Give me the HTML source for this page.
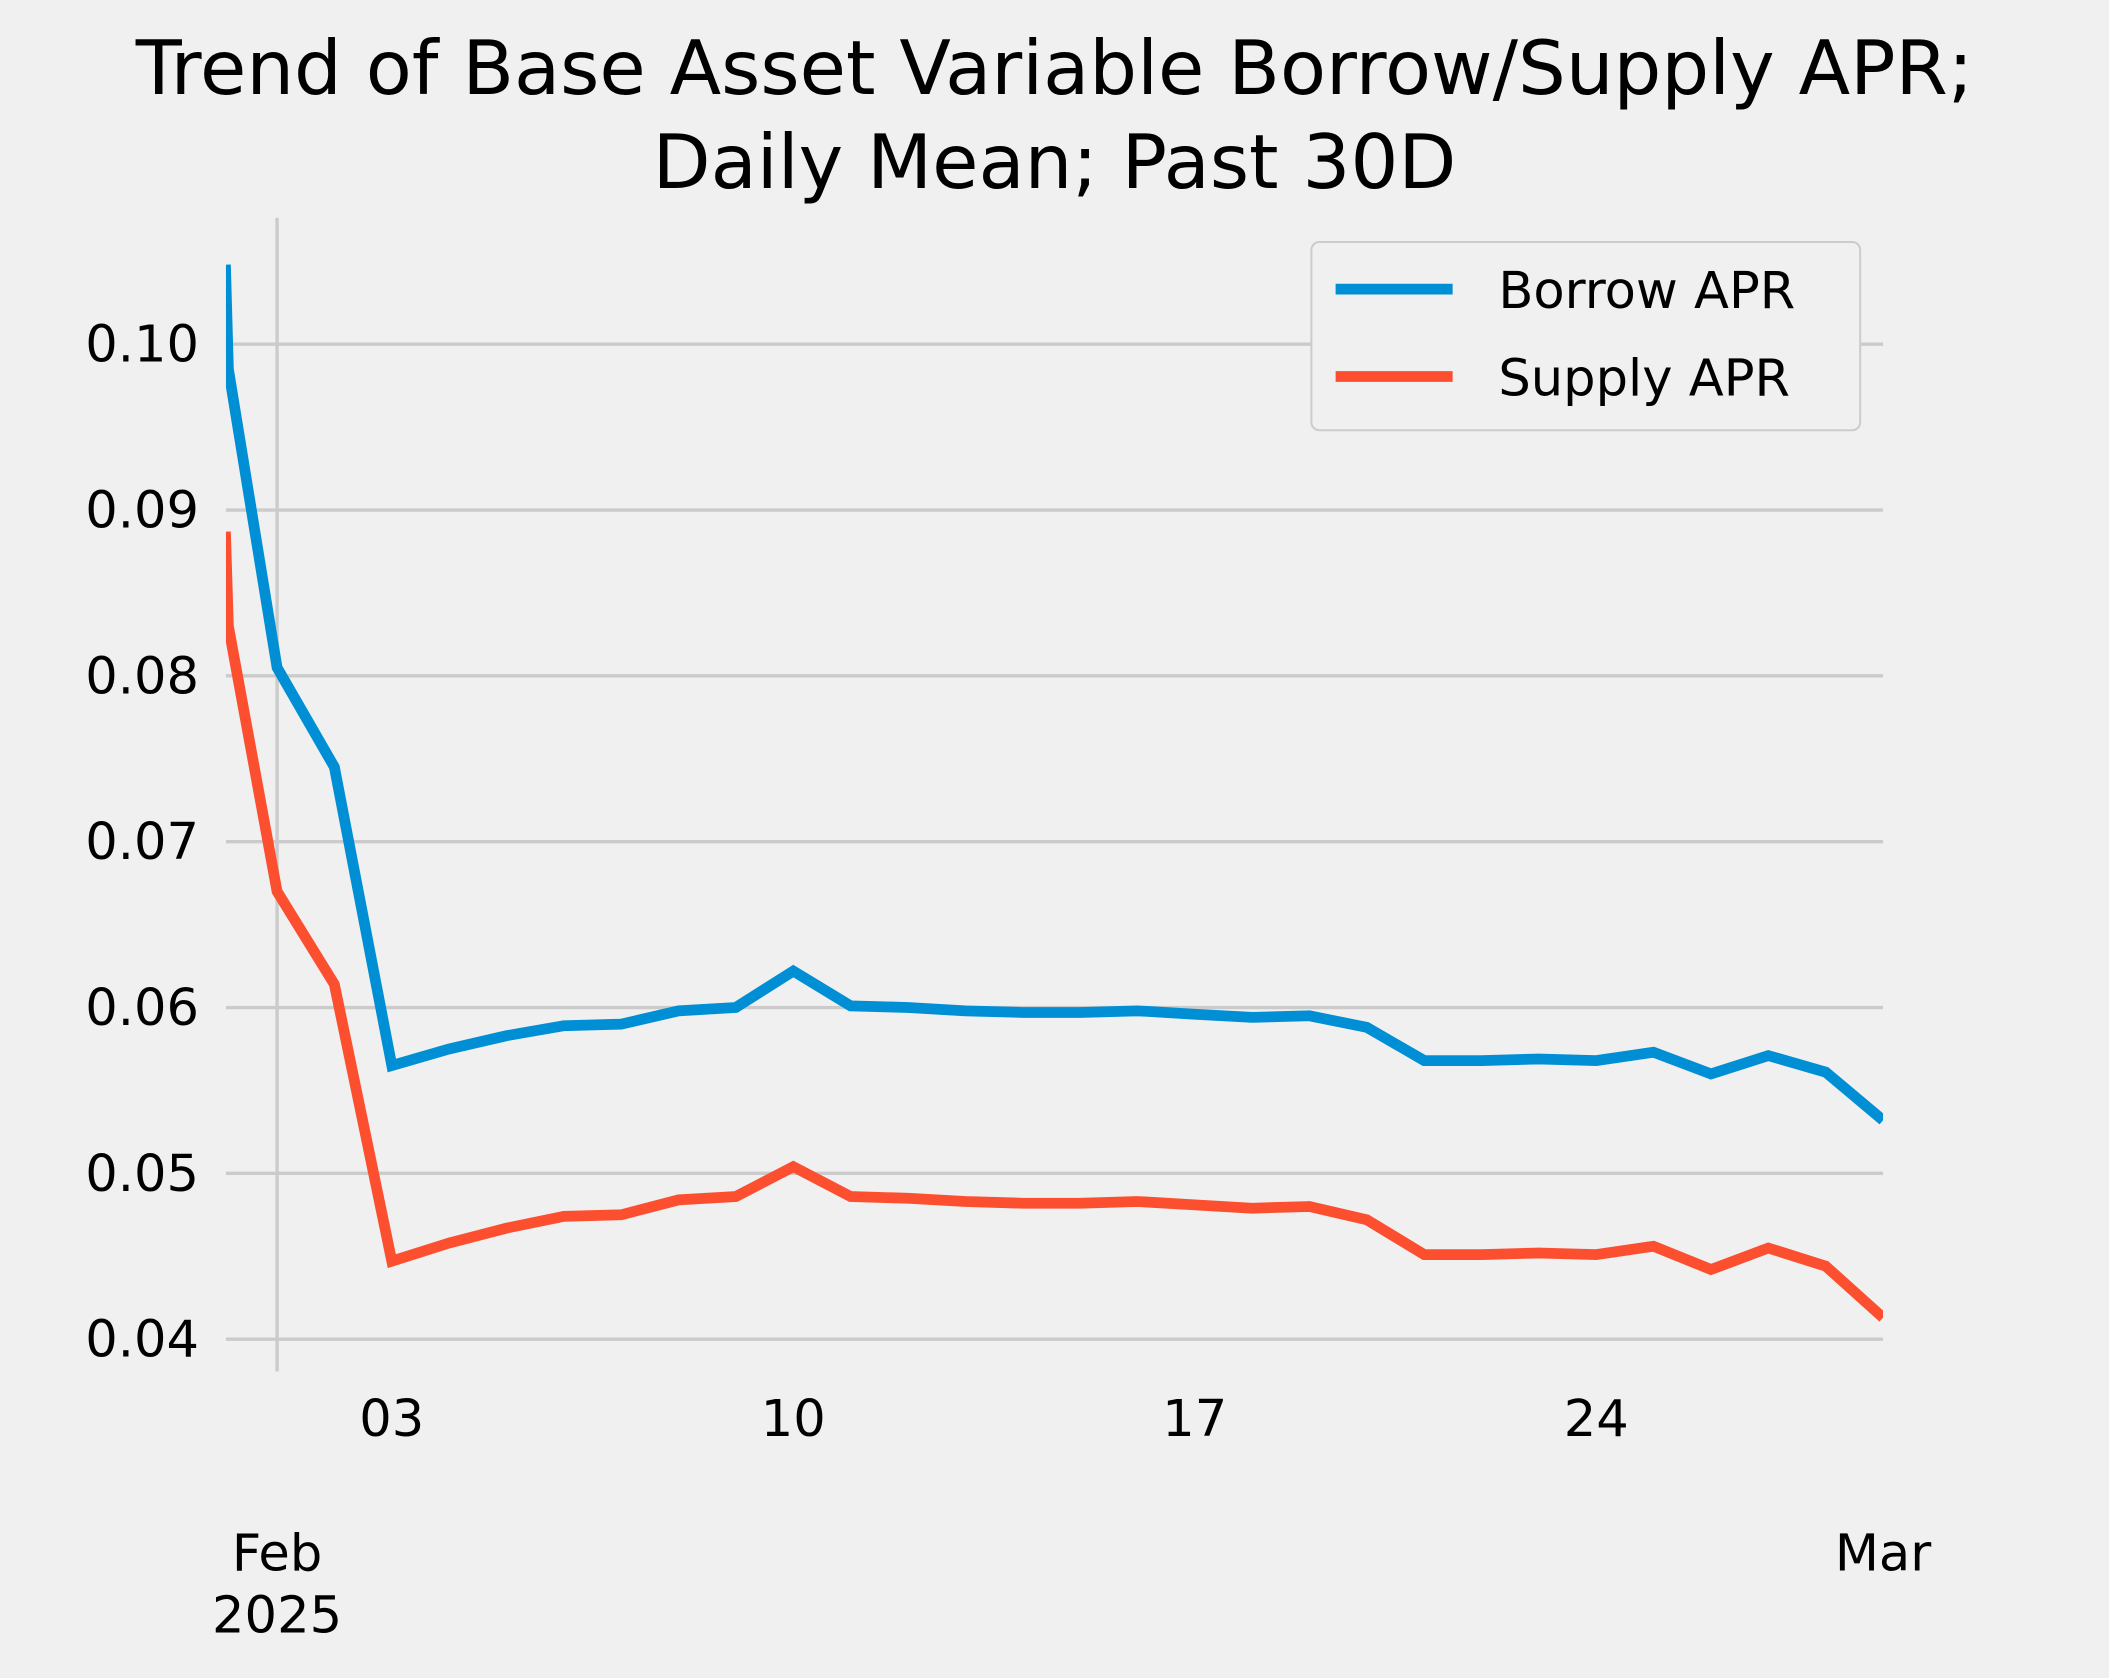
<!DOCTYPE html>
<html><head><meta charset="utf-8"><style>
html,body{margin:0;padding:0;background:#f0f0f0;}
svg{display:block;}
text{font-family:"DejaVu Sans","Liberation Sans",sans-serif;fill:#000;}
</style></head><body>
<svg id="chart" width="2109" height="1678" viewBox="0 0 1568 1248" preserveAspectRatio="none" xmlns="http://www.w3.org/2000/svg">
<rect x="0" y="0" width="1568" height="1248" fill="#f0f0f0"/>
<text x="784" y="70" font-size="56" text-anchor="middle">Trend of Base Asset Variable Borrow/Supply APR;</text>
<text x="784" y="140" font-size="56" text-anchor="middle">Daily Mean; Past 30D</text>
<defs><clipPath id="plotclip"><rect x="168" y="160" width="1232" height="860"/></clipPath></defs>
<g id="grid"></g>
<g id="yticks"></g>
<g id="xticks"></g>
<g id="series" clip-path="url(#plotclip)"></g>
<g>
<rect x="975" y="180" width="408" height="140" rx="6" fill="#f0f0f0" stroke="#cccccc" stroke-width="1.5"/>
<line x1="993" y1="215" x2="1080" y2="215" stroke="#008fd5" stroke-width="8"/>
<text x="1114" y="229" font-size="38">Borrow APR</text>
<line x1="993" y1="280" x2="1080" y2="280" stroke="#fc4f30" stroke-width="8"/>
<text x="1114" y="294" font-size="38">Supply APR</text>
</g>
</svg>
<script>
const days = [-0.9,-0.85,0,1,2,3,4,5,6,7,8,9,10,11,12,13,14,15,16,17,18,19,20,21,22,23,24,25,26,27,28];
const borrowApr = [0.1048,0.0985,0.0805,0.0745,0.0565,0.0575,0.0583,0.0589,0.0590,0.0598,0.0600,0.0622,0.0601,0.0600,0.0598,0.0597,0.0597,0.0598,0.0596,0.0594,0.0595,0.0588,0.0568,0.0568,0.0569,0.0568,0.0573,0.0560,0.0571,0.0561,0.0532];
const supplyApr = [0.0887,0.0830,0.0670,0.0614,0.0447,0.0458,0.0467,0.0474,0.0475,0.0484,0.0486,0.0504,0.0486,0.0485,0.0483,0.0482,0.0482,0.0483,0.0481,0.0479,0.0480,0.0472,0.0451,0.0451,0.0452,0.0451,0.0456,0.0442,0.0455,0.0444,0.0413];
const yTicks = [0.04,0.05,0.06,0.07,0.08,0.09,0.10];
const yTickLabels = ["0.04","0.05","0.06","0.07","0.08","0.09","0.10"];
const xMinorTicks = [2,9,16,23];
const xMinorLabels = ["03","10","17","24"];
const xMajorTicks = [0,28];
const xMajorLabels = [["Feb","2025"],["Mar"]];

const NS = "http://www.w3.org/2000/svg";
function xs(d){ return 206 + d*(1400-206)/28; }
function ys(v){ return 996 - (v-0.04)*(996-256)/0.06; }
function mk(tag, attrs, parent){ const e=document.createElementNS(NS,tag); for(const k in attrs) e.setAttribute(k,attrs[k]); parent.appendChild(e); return e; }

const grid=document.getElementById('grid');
yTicks.forEach((t,i)=>{
  const l=mk('line',{x1:168,x2:1400,y1:ys(t),y2:ys(t),stroke:'#cbcbcb','stroke-width':2.5},grid);
  
  
  const tx=mk('text',{x:148,y:ys(t)+13,'font-size':38,'text-anchor':'end'},document.getElementById('yticks'));
  tx.textContent=yTickLabels[i];
  
  
});
const vg=mk('line',{x1:xs(0),x2:xs(0),y1:162,y2:1020,stroke:'#cbcbcb','stroke-width':2.5},grid);


const xt=document.getElementById('xticks');
xMinorTicks.forEach((d,i)=>{
  const tx=mk('text',{x:xs(d),y:1068,'font-size':38,'text-anchor':'middle'},xt);
  tx.textContent=xMinorLabels[i];
  
  
});
xMajorTicks.forEach((d,i)=>{
  xMajorLabels[i].forEach((s,j)=>{
    const tx=mk('text',{x:xs(d),y:1168+j*46,'font-size':38,'text-anchor':'middle'},xt);
    tx.textContent=s;
    
    
  });
});
const sg=document.getElementById('series');
function drawLine(vals,color,name){
  const pts=days.map((d,i)=>xs(d).toFixed(1)+','+ys(vals[i]).toFixed(1)).join(' ');
  const p=mk('polyline',{points:pts,fill:'none',stroke:color,'stroke-width':8,'stroke-linejoin':'miter'},sg);
  
  
}
drawLine(borrowApr,'#008fd5','borrow-apr-line');
drawLine(supplyApr,'#fc4f30','supply-apr-line');
</script>
</body></html>
